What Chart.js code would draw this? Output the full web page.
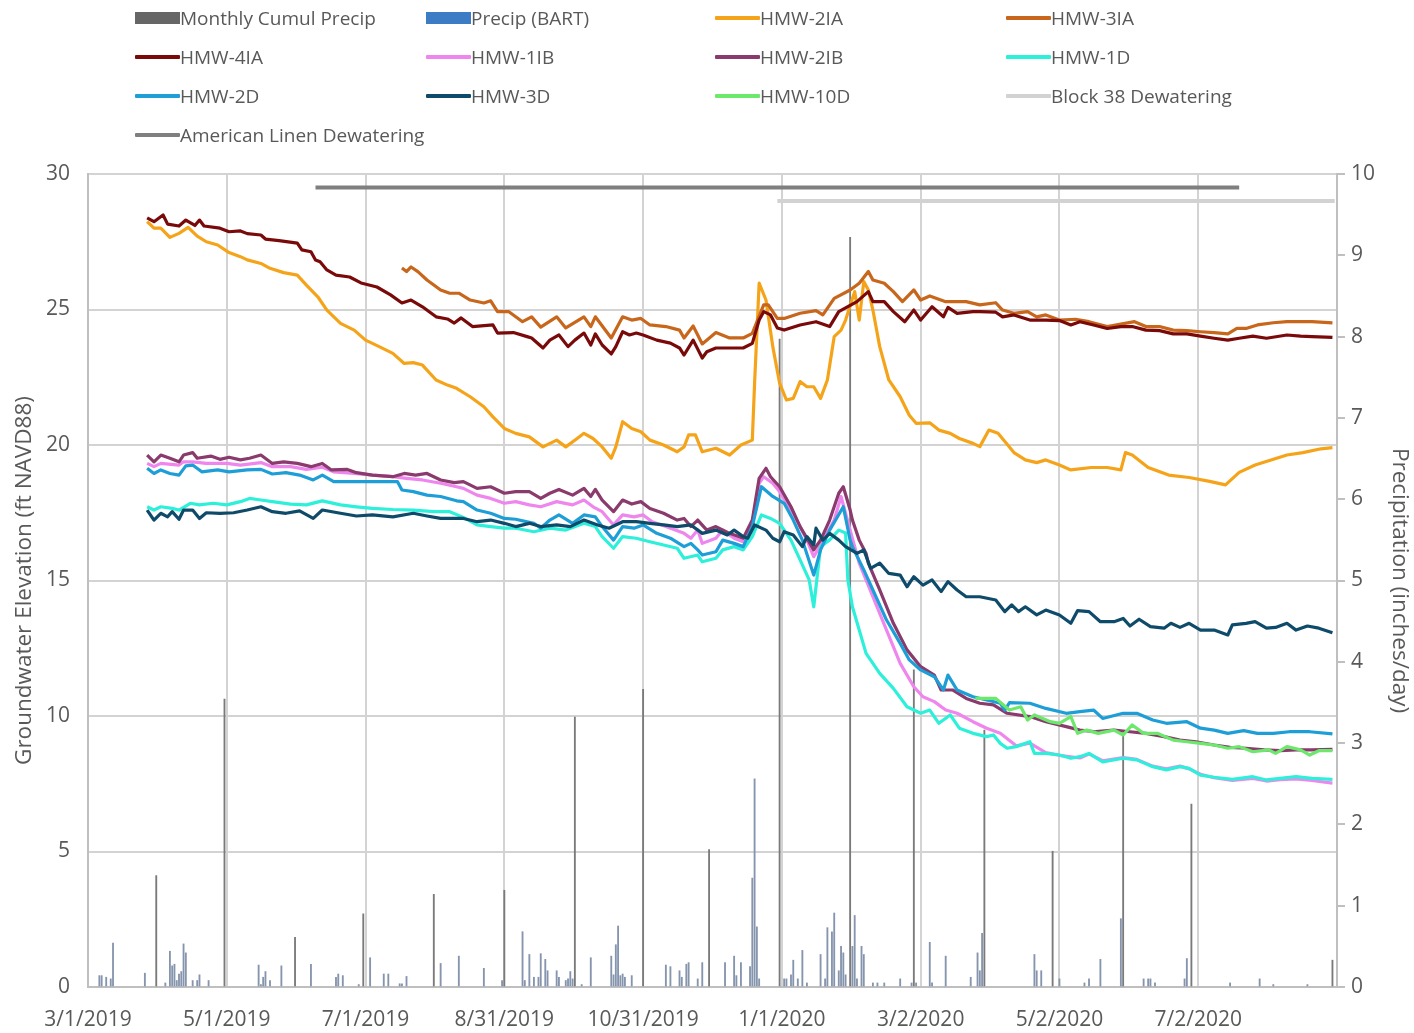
<!DOCTYPE html>
<html><head><meta charset="utf-8">
<script src="https://cdn.jsdelivr.net/npm/chart.js@4.4.1/dist/chart.umd.min.js"></script>
<style>
body{margin:0;background:#fff;}
#wrap{position:relative;width:1414px;height:1033px;overflow:hidden;}
#c{position:absolute;left:0;top:0;}
.lg{position:absolute;font-family:'Open Sans',sans-serif;font-size:19px;color:#595959;display:flex;align-items:center;white-space:nowrap;height:26px;}
.sw{width:45px;flex:none;}
</style></head><body>
<div id="wrap"><canvas id="c" width="1414" height="1033"></canvas><div id="legend"></div></div>
<script>
// x values are days since 3/1/2019
const tickDays = [0, 61, 122, 183, 244, 305, 366, 427, 488];
const tickLabels = ['3/1/2019','5/1/2019','7/1/2019','8/31/2019','10/31/2019','1/1/2020','3/2/2020','5/2/2020','7/2/2020'];

const hmw2IA = [[26,28.24],[29,28.0],[32,28.0],[36,27.66],[40,27.81],[44,28.03],[48,27.71],[52,27.5],[57,27.38],[62,27.1],[67,26.95],[70,26.83],[76,26.7],[80,26.52],[86,26.36],[92,26.27],[96,25.9],[101,25.47],[105,24.98],[111,24.49],[117,24.24],[122,23.87],[128,23.63],[134,23.38],[139,23.01],[143,23.04],[147,22.95],[153,22.4],[158,22.21],[162,22.09],[168,21.78],[174,21.41],[178,21.04],[183,20.61],[188,20.43],[194,20.3],[200,19.93],[206,20.18],[210,19.93],[215,20.24],[218,20.43],[222,20.24],[226,19.93],[230,19.51],[232,19.93],[235,20.86],[239,20.61],[243,20.49],[247,20.18],[253,20.0],[259,19.75],[262,19.93],[264,20.37],[267,20.37],[270,19.75],[276,19.88],[282,19.63],[287,20.0],[292,20.18],[293,22.28],[295,25.97],[298,25.35],[301,23.63],[304,22.28],[307,21.66],[310,21.72],[313,22.34],[316,22.15],[319,22.15],[322,21.72],[325,22.4],[328,24.0],[331,24.24],[333,24.61],[337,25.66],[339,24.61],[341,26.03],[343,25.72],[345,24.98],[348,23.63],[352,22.4],[357,21.78],[361,21.1],[364,20.8],[370,20.82],[374,20.55],[379,20.43],[383,20.24],[389,20.06],[392,19.94],[396,20.55],[400,20.43],[407,19.72],[412,19.45],[417,19.35],[421,19.45],[427,19.26],[432,19.08],[441,19.17],[448,19.17],[454,19.08],[456,19.72],[459,19.63],[466,19.17],[475,18.89],[484,18.8],[493,18.66],[500,18.53],[506,18.99],[513,19.26],[520,19.45],[527,19.63],[534,19.72],[542,19.86],[547,19.9]];

const hmw3IA = [[138,26.53],[140,26.4],[142,26.57],[145,26.4],[149,26.09],[155,25.72],[159,25.6],[163,25.6],[168,25.35],[174,25.24],[177,25.32],[180,24.92],[185,24.92],[191,24.55],[195,24.73],[199,24.35],[206,24.73],[210,24.32],[218,24.73],[221,24.37],[223,24.73],[230,23.95],[235,24.73],[239,24.61],[243,24.67],[247,24.43],[254,24.37],[260,24.24],[262,23.95],[266,24.39],[270,23.73],[276,24.15],[282,23.95],[288,23.95],[292,24.12],[297,25.17],[299,25.17],[303,24.67],[306,24.67],[313,24.86],[320,24.96],[323,24.8],[328,25.41],[335,25.72],[339,25.97],[343,26.4],[345,26.09],[350,25.97],[354,25.66],[358,25.29],[363,25.72],[366,25.35],[370,25.5],[377,25.29],[386,25.29],[392,25.17],[399,25.25],[402,24.98],[407,24.86],[413,24.92],[417,24.73],[421,24.8],[427,24.61],[434,24.64],[440,24.55],[448,24.37],[454,24.46],[460,24.55],[465,24.37],[471,24.37],[477,24.24],[483,24.22],[489,24.18],[495,24.15],[501,24.1],[505,24.3],[509,24.3],[514,24.43],[521,24.51],[527,24.55],[533,24.55],[538,24.55],[547,24.51]];

const hmw4IA = [[26,28.38],[29,28.24],[33,28.49],[35,28.15],[40,28.08],[43,28.3],[47,28.1],[49,28.3],[51,28.08],[58,28.0],[62,27.87],[67,27.9],[70,27.8],[76,27.75],[78,27.6],[84,27.54],[92,27.45],[94,27.2],[98,27.13],[100,26.83],[102,26.76],[105,26.46],[109,26.27],[115,26.2],[120,25.98],[127,25.83],[133,25.54],[138,25.24],[142,25.35],[147,25.1],[153,24.73],[158,24.65],[161,24.5],[164,24.69],[169,24.37],[178,24.43],[180,24.13],[187,24.15],[193,24.0],[195,23.95],[200,23.58],[203,23.87],[207,24.06],[211,23.63],[214,23.87],[218,24.13],[221,23.69],[223,24.1],[226,23.69],[230,23.36],[232,23.63],[235,24.18],[238,24.06],[241,24.13],[244,24.06],[250,23.87],[256,23.76],[260,23.58],[262,23.32],[266,23.87],[270,23.21],[272,23.44],[276,23.58],[282,23.58],[288,23.58],[292,23.75],[295,24.61],[297,24.92],[300,24.8],[303,24.32],[306,24.24],[313,24.43],[320,24.55],[326,24.37],[330,24.92],[338,25.29],[343,25.66],[345,25.29],[350,25.29],[354,24.92],[359,24.55],[363,24.98],[366,24.61],[371,25.1],[376,24.73],[378,25.08],[382,24.86],[389,24.92],[392,24.92],[399,24.9],[402,24.73],[407,24.8],[414,24.61],[421,24.61],[427,24.59],[432,24.43],[436,24.55],[442,24.43],[448,24.3],[454,24.37],[459,24.37],[465,24.24],[471,24.22],[477,24.1],[483,24.1],[489,24.02],[495,23.94],[501,23.87],[506,23.94],[512,24.02],[518,23.94],[527,24.06],[533,24.02],[538,24.0],[547,23.97]];

const hmw1IB = [[26,19.32],[29,19.2],[32,19.32],[40,19.26],[42,19.38],[46,19.38],[52,19.32],[61,19.32],[67,19.26],[76,19.35],[81,19.2],[89,19.2],[96,19.1],[103,19.18],[108,19.01],[117,18.95],[125,18.89],[134,18.83],[140,18.77],[147,18.71],[155,18.59],[162,18.46],[165,18.4],[171,18.15],[177,18.03],[183,17.85],[188,17.91],[194,17.79],[199,17.72],[206,17.91],[213,17.79],[218,17.97],[222,17.72],[226,17.54],[231,17.05],[235,17.42],[240,17.35],[244,17.42],[248,17.17],[254,16.99],[262,16.74],[265,16.56],[268,16.86],[270,16.37],[276,16.56],[279,16.86],[284,16.56],[288,16.43],[292,17.11],[295,18.59],[297,18.83],[301,18.59],[304,18.28],[310,17.48],[316,16.49],[319,15.88],[322,16.31],[328,17.23],[331,18.1],[335,16.86],[339,15.64],[345,14.4],[351,13.17],[357,11.94],[363,11.08],[367,10.71],[372,10.53],[377,10.22],[382,10.1],[389,9.79],[395,9.55],[401,9.36],[408,8.9],[414,9.0],[421,8.65],[427,8.55],[436,8.45],[440,8.6],[446,8.35],[455,8.47],[461,8.4],[468,8.15],[474,8.05],[480,8.15],[484,8.05],[489,7.85],[495,7.72],[503,7.62],[512,7.7],[518,7.6],[524,7.65],[531,7.68],[538,7.62],[547,7.52]];

const hmw2IB = [[26,19.63],[29,19.38],[32,19.63],[36,19.51],[40,19.38],[42,19.63],[46,19.72],[48,19.51],[54,19.59],[58,19.47],[62,19.55],[67,19.45],[71,19.51],[76,19.63],[81,19.32],[86,19.38],[92,19.32],[98,19.2],[103,19.32],[107,19.08],[114,19.1],[118,18.98],[125,18.89],[134,18.83],[139,18.95],[144,18.89],[149,18.95],[155,18.71],[161,18.61],[165,18.65],[171,18.4],[177,18.46],[183,18.22],[188,18.28],[194,18.28],[199,18.03],[203,18.22],[207,18.36],[213,18.15],[218,18.4],[221,18.1],[223,18.36],[226,17.97],[231,17.54],[235,17.97],[239,17.82],[243,17.91],[247,17.66],[253,17.48],[259,17.23],[262,17.29],[265,16.99],[268,17.23],[272,16.86],[276,16.99],[282,16.74],[288,16.56],[292,17.23],[295,18.77],[298,19.14],[300,18.83],[304,18.46],[309,17.72],[313,16.99],[319,16.13],[322,16.49],[326,17.23],[330,18.22],[332,18.46],[335,17.6],[336,17.23],[339,16.49],[342,16.0],[343,15.64],[348,14.65],[354,13.42],[360,12.44],[366,11.82],[372,11.51],[375,10.96],[380,10.96],[386,10.65],[392,10.47],[398,10.41],[404,10.1],[414,9.98],[421,9.79],[430,9.61],[436,9.48],[443,9.42],[451,9.48],[458,9.42],[465,9.36],[473,9.24],[480,9.11],[487,9.05],[495,8.93],[502,8.84],[509,8.81],[517,8.75],[524,8.72],[531,8.75],[538,8.75],[547,8.77]];

const hmw1D = [[26,17.72],[29,17.6],[32,17.72],[37,17.66],[40,17.6],[45,17.85],[49,17.79],[55,17.85],[61,17.79],[67,17.91],[71,18.03],[76,17.97],[81,17.91],[89,17.82],[96,17.79],[103,17.94],[111,17.79],[118,17.72],[125,17.66],[134,17.62],[143,17.6],[152,17.54],[159,17.54],[165,17.33],[171,17.05],[177,16.99],[183,16.93],[188,16.93],[196,16.8],[203,16.93],[210,16.86],[218,17.11],[223,16.99],[226,16.62],[231,16.19],[235,16.62],[241,16.56],[247,16.43],[253,16.31],[259,16.19],[262,15.82],[268,15.94],[270,15.69],[276,15.82],[279,16.13],[284,16.25],[288,16.13],[292,16.62],[296,17.42],[300,17.29],[304,17.11],[309,16.49],[313,15.76],[317,15.02],[319,14.03],[322,16.25],[326,16.5],[330,16.86],[333,16.75],[334,15.02],[336,14.03],[342,12.31],[348,11.57],[354,11.02],[360,10.34],[366,10.1],[370,10.22],[374,9.73],[379,10.04],[383,9.55],[389,9.36],[395,9.24],[398,9.3],[401,8.99],[404,8.81],[408,8.87],[414,9.05],[416,8.62],[421,8.62],[427,8.56],[432,8.44],[436,8.5],[440,8.62],[446,8.31],[455,8.44],[461,8.38],[468,8.13],[474,8.01],[480,8.13],[484,8.07],[489,7.82],[495,7.74],[503,7.66],[512,7.76],[518,7.64],[524,7.7],[531,7.76],[538,7.7],[547,7.66]];

const hmw2D = [[26,19.14],[29,18.95],[32,19.08],[36,18.95],[40,18.89],[43,19.23],[46,19.26],[50,19.01],[57,19.08],[62,19.01],[70,19.08],[76,19.1],[81,18.93],[87,18.98],[93,18.89],[99,18.71],[103,18.89],[108,18.65],[111,18.65],[136,18.65],[138,18.34],[143,18.28],[149,18.15],[155,18.1],[162,17.94],[165,17.91],[171,17.6],[177,17.48],[183,17.29],[188,17.26],[196,17.11],[199,16.93],[203,17.23],[207,17.42],[213,17.11],[218,17.42],[223,17.35],[226,16.99],[231,16.49],[235,16.99],[240,16.93],[244,17.05],[250,16.74],[256,16.56],[262,16.25],[265,16.37],[268,16.13],[270,15.94],[276,16.06],[279,16.49],[284,16.37],[288,16.25],[292,16.99],[296,18.46],[301,18.1],[306,17.85],[310,17.23],[314,16.49],[319,15.2],[322,16.13],[326,16.86],[332,17.72],[335,16.49],[336,16.25],[341,15.39],[345,14.65],[351,13.54],[357,12.68],[361,12.07],[366,11.7],[372,11.45],[376,10.96],[378,11.51],[382,10.96],[389,10.71],[395,10.59],[401,10.47],[403,10.22],[405,10.49],[414,10.47],[421,10.28],[430,10.1],[436,10.16],[442,10.22],[446,9.91],[455,10.1],[461,10.1],[468,9.85],[474,9.73],[483,9.79],[489,9.55],[495,9.48],[501,9.36],[508,9.46],[514,9.36],[521,9.36],[528,9.42],[537,9.42],[547,9.34]];

const hmw3D = [[26,17.6],[29,17.23],[32,17.48],[35,17.35],[37,17.54],[40,17.26],[42,17.6],[46,17.6],[49,17.29],[52,17.5],[58,17.48],[64,17.5],[70,17.6],[76,17.72],[81,17.54],[87,17.48],[93,17.57],[99,17.29],[103,17.6],[111,17.48],[118,17.38],[125,17.42],[134,17.35],[143,17.48],[149,17.38],[155,17.29],[162,17.29],[165,17.29],[171,17.17],[177,17.23],[183,17.11],[188,16.99],[194,17.11],[199,16.99],[206,17.05],[212,16.99],[218,17.23],[224,17.05],[229,16.93],[235,17.17],[241,17.17],[247,17.11],[253,17.05],[259,16.99],[265,17.05],[270,16.74],[276,16.86],[281,16.68],[284,16.86],[288,16.62],[290,16.56],[293,17.05],[298,16.86],[301,16.56],[304,16.43],[306,16.8],[310,16.68],[314,16.25],[316,16.62],[319,16.31],[320,16.93],[323,16.49],[326,16.74],[330,16.49],[333,16.25],[338,16.0],[341,16.13],[344,15.45],[348,15.64],[352,15.26],[357,15.2],[360,14.77],[363,15.14],[367,14.83],[371,15.02],[375,14.59],[378,14.96],[382,14.65],[386,14.4],[392,14.4],[399,14.28],[403,13.85],[406,14.1],[409,13.85],[412,14.03],[417,13.73],[421,13.91],[427,13.73],[432,13.42],[435,13.89],[440,13.85],[445,13.48],[451,13.48],[455,13.6],[458,13.32],[462,13.57],[467,13.3],[473,13.24],[476,13.42],[480,13.27],[484,13.42],[489,13.17],[495,13.17],[501,12.99],[503,13.36],[509,13.42],[513,13.48],[518,13.24],[522,13.27],[527,13.42],[531,13.17],[536,13.32],[541,13.24],[547,13.07]];

const hmw10D = [[390,10.65],[399,10.65],[405,10.22],[410,10.34],[413,9.85],[416,10.04],[423,9.79],[427,9.73],[432,9.98],[435,9.36],[439,9.48],[444,9.36],[451,9.48],[455,9.3],[459,9.67],[464,9.36],[470,9.36],[477,9.11],[483,9.05],[489,8.99],[495,8.93],[501,8.81],[506,8.87],[512,8.68],[519,8.75],[522,8.62],[527,8.87],[533,8.75],[537,8.56],[541,8.72],[547,8.72]];

const block38 = [[303,29.0],[548,29.0]];
const americanLinen = [[100,29.5],[506,29.5]];

// precipitation (inches/day), right axis
const monthlyPrecip = [[30,1.37],[60,3.54],[91,0.61],[121,0.9],[152,1.14],[183,1.19],[214,3.32],[244,3.66],[273,1.69],[304,7.97],[335,9.22],[363,3.9],[394,3.16],[424,1.67],[455,3.1],[485,2.25],[547,0.33]];
const dailyPrecip = [[5,0.14],[6,0.14],[8,0.12],[10,0.1],[11,0.54],[25,0.17],[34,0.05],[36,0.44],[37,0.26],[38,0.28],[39,0.08],[40,0.16],[41,0.19],[42,0.53],[43,0.42],[46,0.08],[48,0.08],[49,0.15],[53,0.08],[75,0.27],[76,0.03],[77,0.12],[78,0.19],[80,0.08],[85,0.26],[98,0.28],[109,0.12],[110,0.16],[112,0.14],[119,0.03],[124,0.36],[130,0.16],[132,0.16],[137,0.04],[138,0.04],[140,0.13],[155,0.29],[163,0.38],[174,0.23],[182,0.08],[191,0.68],[192,0.08],[194,0.4],[196,0.12],[198,0.12],[199,0.41],[201,0.34],[202,0.2],[206,0.2],[207,0.12],[210,0.08],[211,0.1],[212,0.19],[213,0.1],[217,0.03],[221,0.36],[230,0.38],[231,0.15],[232,0.52],[233,0.75],[234,0.14],[235,0.16],[236,0.12],[239,0.14],[254,0.27],[256,0.25],[260,0.2],[261,0.12],[263,0.28],[264,0.3],[268,0.1],[270,0.3],[280,0.3],[284,0.38],[285,0.14],[287,0.3],[291,0.25],[292,1.34],[293,2.56],[294,0.74],[295,0.1],[306,0.1],[307,0.1],[309,0.15],[310,0.33],[312,0.1],[314,0.45],[316,0.05],[322,0.4],[324,0.1],[325,0.73],[327,0.68],[328,0.91],[330,0.2],[331,0.5],[332,0.42],[333,0.15],[336,0.5],[337,0.88],[338,0.1],[340,0.5],[341,0.4],[345,0.05],[347,0.05],[350,0.05],[357,0.1],[362,0.05],[364,0.05],[370,0.55],[371,0.05],[377,0.38],[388,0.12],[391,0.42],[392,0.2],[393,0.66],[416,0.4],[417,0.2],[419,0.2],[427,0.1],[438,0.05],[440,0.1],[445,0.34],[454,0.84],[464,0.1],[466,0.1],[467,0.1],[469,0.05],[482,0.1],[483,0.35],[502,0.05],[515,0.1],[521,0.03],[536,0.03]];

const toXY = arr => arr.map(p => ({x: p[0], y: p[1]}));

const lineSeries = [
  ['HMW-2IA', hmw2IA, '#F5A41A'],
  ['HMW-3IA', hmw3IA, '#C8661C'],
  ['HMW-4IA', hmw4IA, '#7A0A0A'],
  ['HMW-1IB', hmw1IB, '#EE86EE'],
  ['HMW-2IB', hmw2IB, '#8A3A6C'],
  ['HMW-1D', hmw1D, '#2DF0DA'],
  ['HMW-2D', hmw2D, '#1E9ED6'],
  ['HMW-3D', hmw3D, '#0E4B6A'],
  ['HMW-10D', hmw10D, '#6CE86C'],
  ['Block 38 Dewatering', block38, '#D2D2D2'],
  ['American Linen Dewatering', americanLinen, '#7F7F7F']
];

const datasets = [
  {type:'bar', label:'Monthly Cumul Precip', data: toXY(monthlyPrecip), yAxisID:'y2', backgroundColor:'#7A7A7A', barThickness:1.2, grouped:false, order:100},
  {type:'bar', label:'Precip (BART)', data: toXY(dailyPrecip), yAxisID:'y2', backgroundColor:'#8695AE', barThickness:1.2, grouped:false, order:101}
];
lineSeries.forEach((s, i) => {
  datasets.push({type:'line', label:s[0], data:toXY(s[1]), yAxisID:'y', borderColor:s[2], backgroundColor:s[2],
    borderWidth:(i >= 9 ? 4 : 3.2), pointRadius:0, tension:0, fill:false, order: 50 - i, borderJoinStyle:'round'});
});

const gridColor = '#D3D3D3';
const textColor = '#595959';
const fontFam = "'Open Sans', sans-serif";

new Chart(document.getElementById('c'), {
  type: 'line',
  data: { datasets },
  options: {
    responsive:false, animation:false, devicePixelRatio:1,
    layout:{padding:{top:174, left:0, right:0, bottom:0}},
    plugins:{legend:{display:false}, tooltip:{enabled:false}},
    scales:{
      x:{type:'linear', min:0, max:549, offset:false,
        afterBuildTicks: s => { s.ticks = tickDays.map(v => ({value:v})); },
        afterFit: s => { s.height = 46; },
        grid:{color:gridColor, lineWidth:2, drawTicks:false, offset:false},
        border:{color:'#BFBFBF', width:2},
        ticks:{autoSkip:false, maxRotation:0, padding:20, color:textColor, font:{family:fontFam, size:21},
          callback:(v, i) => tickLabels[i]}},
      y:{position:'left', min:0, max:30,
        afterFit: s => { s.width = 88; },
        grid:{color:gridColor, lineWidth:2, drawTicks:false},
        border:{color:'#BFBFBF', width:2},
        ticks:{stepSize:5, padding:18, color:textColor, font:{family:fontFam, size:21}},
        title:{display:true, text:'Groundwater Elevation (ft NAVD88)', color:textColor, font:{family:fontFam, size:22.5}, padding:{top:11, bottom:0}}},
      y2:{position:'right', min:0, max:10,
        afterFit: s => { s.width = 77; },
        grid:{drawOnChartArea:false, color:'#BFBFBF', lineWidth:2, tickLength:8},
        border:{color:'#BFBFBF', width:2},
        ticks:{stepSize:1, padding:6, color:textColor, font:{family:fontFam, size:21}},
        title:{display:true, text:'Precipitation (inches/day)', color:textColor, font:{family:fontFam, size:22.5}, padding:{top:1, bottom:0}}}
    }
  }
});

// legend (4 columns, Excel-style)
const legendItems = [
  ['Monthly Cumul Precip', '#666666', 'box'],
  ['Precip (BART)', '#3B7CC4', 'box']
].concat(lineSeries.map(s => [s[0], s[2], 'line']));
const colX = [135, 426, 715, 1006];
const rowY = [18, 57, 96, 135];
const lg = document.getElementById('legend');
legendItems.forEach((it, k) => {
  const d = document.createElement('div');
  d.className = 'lg';
  d.style.left = colX[k % 4] + 'px';
  d.style.top = (rowY[Math.floor(k / 4)] - 13) + 'px';
  const sw = document.createElement('div');
  sw.className = 'sw';
  if (it[2] === 'box') { sw.style.height = '12px'; sw.style.background = it[1]; }
  else { sw.style.height = '4px'; sw.style.background = it[1]; sw.style.borderRadius = '1px'; }
  const t = document.createElement('span');
  t.textContent = it[0];
  d.appendChild(sw); d.appendChild(t);
  lg.appendChild(d);
});
</script>
</body></html>
